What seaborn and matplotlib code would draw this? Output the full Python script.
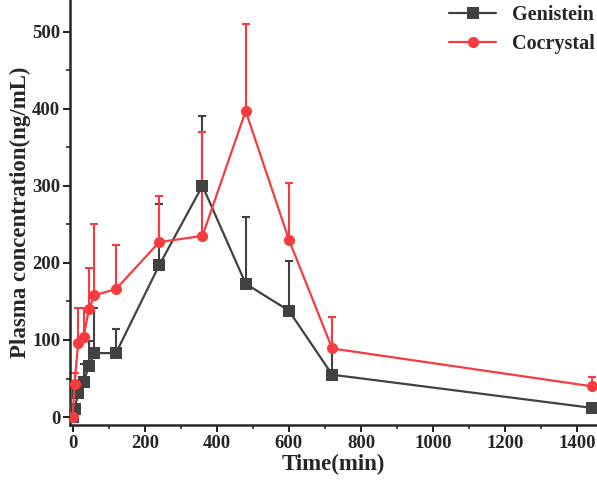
import pandas as pd
import numpy as np
import seaborn as sns
import matplotlib.pyplot as plt

# time points (min)
time = [0, 5, 15, 30, 45, 60, 120, 240, 360, 480, 600, 720, 1440]

# mean plasma concentration and upper error (ng/mL)
genistein = [0, 10, 31, 46, 66, 83, 83, 197, 300, 173, 138, 55, 12]
genistein_up = [0, 0, 40, 69, 99, 142, 114, 277, 390, 260, 203, 87, 14]
cocrystal = [0, 43, 96, 104, 140, 158, 166, 227, 235, 397, 230, 89, 40]
cocrystal_up = [0, 57, 141, 141, 193, 250, 223, 287, 370, 510, 303, 130, 52]

GRAY = '#414141'
RED = '#f73b3e'

df = pd.DataFrame({
    'time': time * 2,
    'conc': genistein + cocrystal,
    'group': ['Genistein'] * len(time) + ['Cocrystal'] * len(time),
})

sns.set_style('ticks')
plt.rcParams['font.family'] = ['Liberation Serif', 'DejaVu Serif']
plt.rcParams['font.weight'] = 'bold'

fig = plt.figure(figsize=(5.97, 4.80), dpi=100)
ax = fig.add_axes([0.117, 0.115, 0.883, 0.885])

# one-sided error bars (upper only)
for vals, up, c in [(genistein, genistein_up, GRAY), (cocrystal, cocrystal_up, RED)]:
    v = np.array(vals)
    err = np.clip(np.array(up) - v, 0, None)
    ax.errorbar(time, v, yerr=[np.zeros_like(err), err], fmt='none',
                ecolor=c, elinewidth=1.5, capsize=3, capthick=1.5, zorder=1)

sns.lineplot(data=df, x='time', y='conc', hue='group', style='group',
             markers={'Genistein': 's', 'Cocrystal': 'o'}, dashes=False,
             palette={'Genistein': GRAY, 'Cocrystal': RED},
             markersize=8, markeredgewidth=0, linewidth=1.6, ax=ax, zorder=3)

ax.set_xlim(-8, 1455)
ax.set_ylim(-10, 541)
ax.set_xticks([0, 200, 400, 600, 800, 1000, 1200, 1400])
ax.set_xticks(np.arange(100, 1500, 200), minor=True)
ax.set_yticks([0, 100, 200, 300, 400, 500])
ax.set_yticks(np.arange(50, 550, 100), minor=True)
ax.tick_params(axis='both', which='major', labelsize=13.5, width=1.5, length=5, direction='out', pad=2)
ax.tick_params(axis='both', which='minor', width=1.2, length=3, direction='out')
for lab in ax.get_xticklabels() + ax.get_yticklabels():
    lab.set_fontweight('bold')

for s in ['top', 'right']:
    ax.spines[s].set_visible(False)
for s in ['left', 'bottom']:
    ax.spines[s].set_linewidth(1.8)

ax.set_xlabel('Time(min)', fontsize=16.5, fontweight='bold', labelpad=2)
ax.set_ylabel('Plasma concentration(ng/mL)', fontsize=16.5, fontweight='bold', labelpad=1)

leg = ax.legend(title=None, frameon=False, loc='upper right', bbox_to_anchor=(1.03, 1.03),
                prop={'weight': 'bold', 'size': 14.5}, handlelength=2.3, labelspacing=0.45)

fig.savefig('out.png', dpi=100)
